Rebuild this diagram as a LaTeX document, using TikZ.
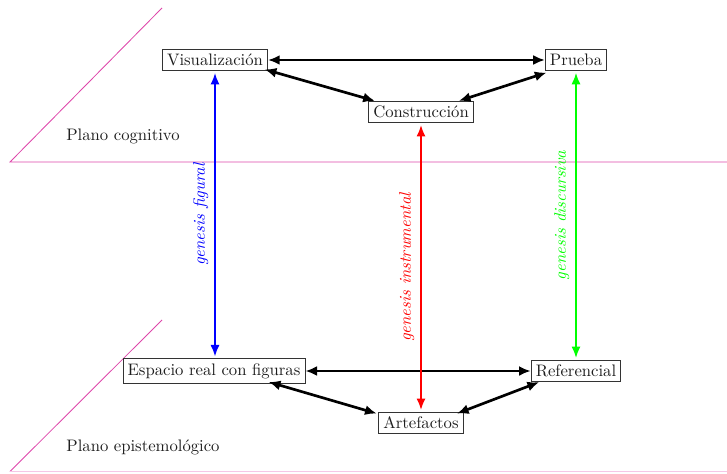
\documentclass[tikz,border=0pt]{standalone}
\usetikzlibrary{arrows.meta}
\definecolor{planecol}{RGB}{222,70,170}
\definecolor{txtcol}{RGB}{30,30,30}
\begin{document}
\begin{tikzpicture}[x=0.6pt,y=-0.6pt,
  box/.style={draw=black!80,line width=0.5pt,inner sep=2.8pt,text=txtcol,font=\fontsize{10}{12}\selectfont},
  planeline/.style={draw=planecol,line width=0.5pt},
  planetext/.style={text=txtcol,font=\fontsize{10}{12}\selectfont},
  link/.style={line width=1.6pt,{Latex[length=7pt,width=6pt]}-{Latex[length=7pt,width=6pt]}},
  gen/.style={line width=1.3pt,{Latex[length=7pt,width=5.5pt]}-{Latex[length=7pt,width=5.5pt]},shorten <=1pt,shorten >=1pt},
  glabel/.style={font=\fontsize{10}{12}\selectfont\itshape,midway,above,sloped}]
\useasboundingbox (0,0) rectangle (727,473);
% planes
\coordinate (p1) at (10,162);
\coordinate (p1d) at (162,8);
\coordinate (p1r) at (727,162);
\coordinate (p2) at (10,471.5);
\coordinate (p2d) at (162,320);
\coordinate (p2r) at (727,471.5);
\draw[planeline] (p1d) -- (p1) -- (p1r);
\draw[planeline] (p2d) -- (p2);
\draw[planeline,draw=planecol!30] (p2) -- (p2r);
\node[planetext] (pc) at (123,136) {Plano cognitivo};
\node[planetext] (pe) at (143,447) {Plano epistemológico};
% nodes
\node[box,fill=white] (vis) at (215,60) {Visualización};
\node[box,fill=white] (pru) at (576,60) {Prueba};
\node[box,fill=white] (con) at (421,112) {Construcción};
\node[box,fill=white] (esp) at (214,371) {Espacio real con figuras};
\node[box,fill=white] (ref) at (576,371) {Referencial};
\node[box,fill=white] (art) at (421,423) {Artefactos};
% links
\draw[link] (vis.east) -- (pru.west);
\draw[link] ([xshift=-2pt,yshift=1pt]vis.south east) -- ([xshift=4pt]con.north west);
\draw[link] ([xshift=-9pt]con.north east) -- ([xshift=1pt,yshift=-1pt]pru.south west);
\draw[link] (esp.east) -- (ref.west);
\draw[link] ([xshift=-22pt,yshift=1pt]esp.south east) -- ([xshift=-1pt,yshift=-1pt]art.north west);
\draw[link] ([xshift=-4pt,yshift=-1pt]art.north east) -- ([xshift=5pt,yshift=0pt]ref.south west);
% genesis arrows
\draw[gen,blue] (vis.south |- esp.north) -- (vis.south) node[glabel] {genesis figural};
\draw[gen,red] (art.north) -- (con.south) node[glabel] {genesis instrumental};
\draw[gen,green] (ref.north) -- (pru.south) node[glabel] {genesis discursiva};
\end{tikzpicture}
\end{document}
